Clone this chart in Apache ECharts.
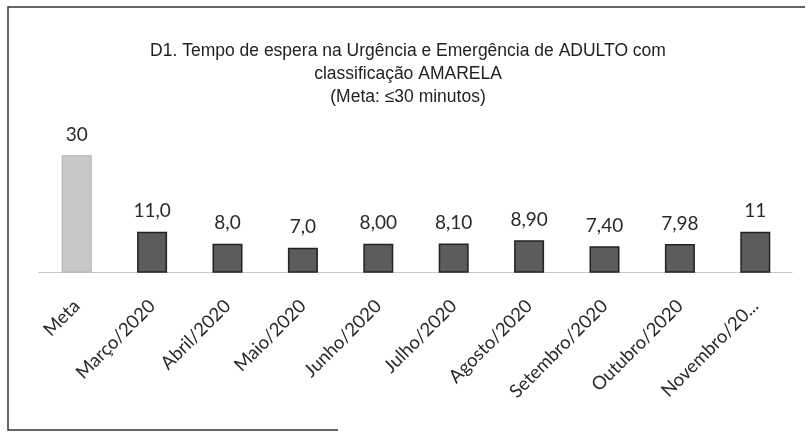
<!DOCTYPE html>
<html>
<head>
<meta charset="utf-8">
<script src="https://cdn.jsdelivr.net/npm/echarts@6/dist/echarts.min.js"></script>
<style>
  html, body { margin: 0; padding: 0; background: #fff; }
  #chart { width: 810px; height: 441px; }
</style>
</head>
<body>
<div id="chart"></div>
<script>
var categories = ["Meta", "Março/2020", "Abril/2020", "Maio/2020", "Junho/2020", "Julho/2020",
  "Agosto/2020", "Setembro/2020", "Outubro/2020", "Novembro/20..."];
var values = [30, 11.0, 8.0, 7.0, 8.00, 8.10, 8.90, 7.40, 7.98, 11];
var valueLabels = ["30", "11,0", "8,0", "7,0", "8,00", "8,10", "8,90", "7,40", "7,98", "11"];

var chart = echarts.init(document.getElementById("chart"));

chart.setOption({
  backgroundColor: "#fff",
  animation: false,
  title: {
    text: "D1. Tempo de espera na Urgência e Emergência de ADULTO com\nclassificação AMARELA\n(Meta: ≤30 minutos)",
    left: 403,
    top: 35,
    textAlign: "center",
    textStyle: {
      fontFamily: "Liberation Sans",
      fontSize: 17.5,
      fontWeight: "normal",
      color: "#222",
      lineHeight: 23
    }
  },
  grid: { left: 39, right: 17, top: 115, bottom: 169 },
  xAxis: {
    type: "category",
    data: categories,
    axisLine: { show: true, lineStyle: { color: "#bbb", type: "dotted", width: 1 } },
    axisTick: { show: false },
    axisLabel: {
      interval: 0,
      rotate: 45,
      margin: 31,
      fontFamily: "Lato",
      fontSize: 18.5,
      color: "#2a2a2a"
    }
  },
  yAxis: {
    type: "value",
    min: 1,
    max: 40,
    show: false,
    splitLine: { show: false }
  },
  series: [{
    type: "bar",
    barWidth: 30,
    data: values.map(function (v, i) {
      return {
        value: v,
        itemStyle: i === 0
          ? { color: "#c8c8c8", borderColor: "#b0b0b0", borderWidth: 1 }
          : { color: "#5c5c5c", borderColor: "#222", borderWidth: 1.5 }
      };
    }),
    label: {
      show: true,
      position: "top",
      distance: 11,
      fontFamily: "Lato",
      fontSize: 19,
      color: "#2a2a2a",
      formatter: function (p) { return valueLabels[p.dataIndex]; }
    }
  }],
  graphic: [{
    type: "polyline",
    shape: { points: [[805, 7], [8, 7], [8, 430], [338, 430]] },
    style: { stroke: "#333", lineWidth: 1.5, fill: null }
  }]
});
</script>
</body>
</html>
